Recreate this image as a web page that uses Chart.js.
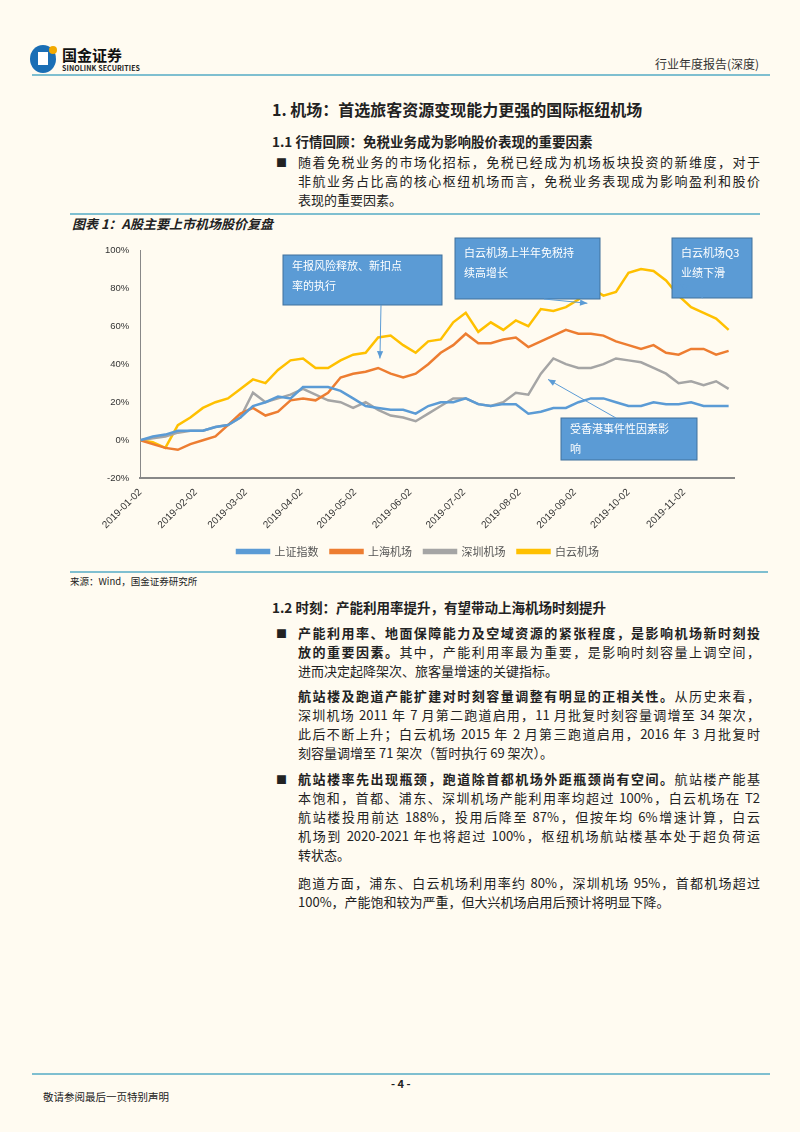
<!DOCTYPE html>
<html><head><meta charset="utf-8">
<script src="https://cdn.jsdelivr.net/npm/chart.js@4.4.0/dist/chart.umd.min.js"></script>
<style>
body{margin:0;background:#fffbf1;font-family:"Noto Sans CJK SC",serif;color:#222;}
.pg{position:relative;width:800px;height:1132px;overflow:hidden;}
.a{position:absolute;white-space:nowrap;}
.rule{position:absolute;height:2px;background:#7fbfd0;}
.ln{position:absolute;left:298px;width:462px;font-size:13px;line-height:20px;text-align:justify;text-align-last:justify;white-space:nowrap;}
.ln.e{text-align-last:left;}
.bul{position:absolute;left:276px;font-size:11px;line-height:20px;}
b{font-weight:700;}
</style></head><body><div class="pg">
<div class="a" style="left:30px;top:45px;width:26px;height:28px;border-radius:50%;background:#1a6eb5;"></div>
<div class="a" style="left:38px;top:52px;width:10px;height:13px;background:#fff;"></div>
<div class="a" style="left:49px;top:46px;width:8px;height:8px;border-radius:50%;background:#f2a900;"></div>
<div class="a" style="left:62px;top:44px;font-size:15px;font-weight:700;color:#111;">国金证券</div>
<div class="a" style="left:62px;top:63px;font-size:7px;font-weight:700;letter-spacing:0.1px;">SINOLINK SECURITIES</div>
<div class="a" style="left:655px;top:55px;font-size:12px;color:#333;">行业年度报告(深度)</div>
<div class="rule" style="left:32px;width:738px;top:74px;"></div>
<div class="a" style="left:272px;top:97px;font-size:16px;font-weight:700;">1. 机场：首选旅客资源变现能力更强的国际枢纽机场</div>
<div class="a" style="left:272px;top:131px;font-size:13.5px;font-weight:700;">1.1 行情回顾：免税业务成为影响股价表现的重要因素</div>
<div class="bul" style="top:152px;">■</div>
<div class="ln" style="top:152px;">随着免税业务的市场化招标，免税已经成为机场板块投资的新维度，对于</div>
<div class="ln" style="top:171px;">非航业务占比高的核心枢纽机场而言，免税业务表现成为影响盈利和股价</div>
<div class="ln e" style="top:190px;">表现的重要因素。</div>
<div class="rule" style="left:70px;width:690px;top:213px;"></div>
<div class="a" style="left:72px;top:214px;font-size:13px;font-weight:700;font-style:italic;">图表 1：A股主要上市机场股价复盘</div>
<div class="a" style="left:60px;top:232px;width:710px;height:335px;"><canvas id="c"></canvas></div>
<div class="rule" style="left:70px;width:698px;top:571px;"></div>
<div class="a" style="left:70px;top:574px;font-size:9.5px;">来源：Wind，国金证券研究所</div>
<div class="a" style="left:272px;top:597px;font-size:13.5px;font-weight:700;">1.2 时刻：产能利用率提升，有望带动上海机场时刻提升</div>
<div class="bul" style="top:623px;">■</div>
<div class="ln" style="top:623px;"><b>产能利用率、地面保障能力及空域资源的紧张程度，是影响机场新时刻投</b></div>
<div class="ln" style="top:642px;"><b>放的重要因素。</b>其中，产能利用率最为重要，是影响时刻容量上调空间，</div>
<div class="ln e" style="top:661px;">进而决定起降架次、旅客量增速的关键指标。</div>
<div class="ln" style="top:686px;"><b>航站楼及跑道产能扩建对时刻容量调整有明显的正相关性。</b>从历史来看，</div>
<div class="ln" style="top:705px;">深圳机场 2011 年 7 月第二跑道启用，11 月批复时刻容量调增至 34 架次，</div>
<div class="ln" style="top:724px;">此后不断上升；白云机场 2015 年 2 月第三跑道启用，2016 年 3 月批复时</div>
<div class="ln e" style="top:743px;">刻容量调增至 71 架次（暂时执行 69 架次）。</div>
<div class="bul" style="top:769px;">■</div>
<div class="ln" style="top:769px;"><b>航站楼率先出现瓶颈，跑道除首都机场外距瓶颈尚有空间。</b>航站楼产能基</div>
<div class="ln" style="top:788px;">本饱和，首都、浦东、深圳机场产能利用率均超过 100%，白云机场在 T2</div>
<div class="ln" style="top:807px;">航站楼投用前达 188%，投用后降至 87%，但按年均 6%增速计算，白云</div>
<div class="ln" style="top:826px;">机场到 2020-2021 年也将超过 100%，枢纽机场航站楼基本处于超负荷运</div>
<div class="ln e" style="top:845px;">转状态。</div>
<div class="ln" style="top:873px;">跑道方面，浦东、白云机场利用率约 80%，深圳机场 95%，首都机场超过</div>
<div class="ln e" style="top:892px;">100%，产能饱和较为严重，但大兴机场启用后预计将明显下降。</div>
<div class="rule" style="left:32px;width:738px;top:1073px;"></div>
<div class="a" style="left:391px;top:1075px;font-size:11px;font-weight:700;">- 4 -</div>
<div class="a" style="left:43px;top:1089px;font-size:10.5px;">敬请参阅最后一页特别声明</div>
</div>
<script>
const days=[0,7,14,21,28,35,42,49,56,63,70,77,84,91,98,105,112,119,126,133,140,147,154,161,168,175,182,189,196,203,210,217,224,231,238,245,252,259,266,273,280,287,294,301,308,315,322,329];
const shIndex=[0,2,3,5,5,5,7,8,12,18,20,23,22,28,28,28,26,22,18,17,16,16,14,18,20,20,22,19,18,19,19,14,15,17,17,20,22,22,20,18,18,20,19,19,20,18,18,18];
const shAirport=[0,-2,-4,-5,-2,0,2,8,14,17,13,15,21,22,21,25,33,35,36,38,35,33,35,40,46,50,56,51,51,53,54,49,52,55,58,56,56,55,52,50,48,50,46,45,48,48,45,47];
const szAirport=[0,1,2,4,5,5,7,8,12,25,20,22,24,27,24,21,20,17,20,16,13,12,10,14,18,22,22,19,18,20,25,24,35,43,40,38,38,40,43,42,41,38,35,30,31,29,31,27];
const byAirport=[0,-1,-4,8,12,17,20,22,27,32,30,37,42,43,38,38,42,45,46,54,55,50,46,52,53,62,67,57,62,58,63,60,69,68,70,74,80,76,78,88,90,89,84,76,70,67,64,58];
const names=['上证指数','上海机场','深圳机场','白云机场'];
const monthTickDays=[0,31,59,90,120,151,181,212,243,273,304];
const monthTickLabels=['2019-01-02','2019-02-02','2019-03-02','2019-04-02','2019-05-02','2019-06-02','2019-07-02','2019-08-02','2019-09-02','2019-10-02','2019-11-02'];
const notes=[
 {t:['年报风险释放、新扣点','率的执行'],box:[223,23,159,50],from:[321,73],to:[134,43]},
 {t:['白云机场上半年免税持','续高增长'],box:[395,6,145,61],from:[484,67],to:[250,72]},
 {t:['白云机场Q3','业绩下滑'],box:[612,6,80,60],from:[643,66],to:[302,82]},
 {t:['受香港事件性因素影','响'],box:[501,186,136,42],from:[556,186],to:[228,32]}
];
const colors=['#5b9bd5','#ed7d31','#a5a5a5','#ffc000'];
const series=[shIndex,shAirport,szAirport,byAirport];
const notePlugin={id:'notes',afterDatasetsDraw(ch){
 const c=ch.ctx,x=ch.scales.x,y=ch.scales.y;
 notes.forEach(n=>{
  const [bx,by,bw,bh]=n.box;
  c.save();c.fillStyle='#5b9bd5';c.strokeStyle='#41719c';c.lineWidth=1;
  c.fillRect(bx,by,bw,bh);c.strokeRect(bx,by,bw,bh);
  c.fillStyle='#fff';c.font='11px "Noto Sans CJK SC"';c.textBaseline='middle';
  const top=n.box[3]>55?15:11;
  n.t.forEach((s,i)=>c.fillText(s,bx+9,by+top+i*20));
  const tx=x.getPixelForValue(n.to[0]),ty=y.getPixelForValue(n.to[1]);
  const fx=n.from[0],fy=n.from[1];
  c.strokeStyle='#5b9bd5';c.fillStyle='#5b9bd5';c.lineWidth=1;
  c.beginPath();c.moveTo(fx,fy);c.lineTo(tx,ty);c.stroke();
  const a=Math.atan2(ty-fy,tx-fx);
  c.beginPath();c.moveTo(tx,ty);c.lineTo(tx-8*Math.cos(a-0.4),ty-8*Math.sin(a-0.4));c.lineTo(tx-8*Math.cos(a+0.4),ty-8*Math.sin(a+0.4));c.closePath();c.fill();
  c.restore();
 });
}};
new Chart(document.getElementById('c'),{
 type:'line',
 data:{datasets:series.map((s,i)=>({label:names[i],data:days.map((d,j)=>({x:d,y:s[j]})),borderColor:colors[i],backgroundColor:colors[i],borderWidth:2.5,pointRadius:0,tension:0}))},
 options:{responsive:true,maintainAspectRatio:false,animation:false,
  layout:{padding:{left:42,right:36,top:18,bottom:0}},
  plugins:{legend:{position:'bottom',labels:{boxWidth:32,boxHeight:3,padding:12,font:{size:11,family:'"Noto Sans CJK SC"'},color:'#555'}},tooltip:{enabled:false}},
  scales:{
   x:{type:'linear',min:0,max:332,grid:{display:false,drawTicks:true,tickLength:5},border:{color:'#888',width:2},
    afterBuildTicks(ax){ax.ticks=monthTickDays.map(v=>({value:v}));},
    ticks:{autoSkip:false,maxRotation:45,minRotation:45,font:{size:10},color:'#333',callback:(v)=>monthTickLabels[monthTickDays.indexOf(v)]}},
   y:{min:-20,max:100,grid:{display:false},border:{color:'#888',width:1},
    ticks:{stepSize:20,font:{size:9.5},color:'#333',callback:v=>v+'%'}}
  }},
 plugins:[notePlugin]
});
</script></body></html>
